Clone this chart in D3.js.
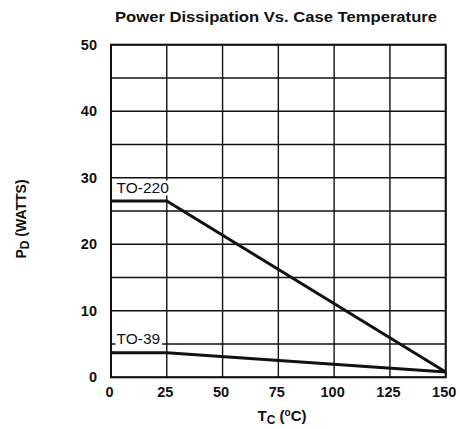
<!DOCTYPE html>
<html><head><meta charset="utf-8">
<script src="https://cdn.jsdelivr.net/npm/d3@7"></script>
<style>body{margin:0;background:#fff}svg{display:block}</style>
</head><body>
<script>
const title = "Power Dissipation Vs. Case Temperature";
const xTicks = [0, 25, 50, 75, 100, 125, 150];
const yTicks = [0, 10, 20, 30, 40, 50];
const yGrid = [0, 5, 10, 15, 20, 25, 30, 35, 40, 45, 50];
const seriesNames = ["TO-220", "TO-39"];
const to220Temp = [0, 25, 150];
const to220Power = [26.5, 26.5, 0.8];
const to39Temp = [0, 25, 150];
const to39Power = [3.7, 3.7, 0.8];

const W = 460, H = 429;
const m = {left: 111, right: 14.3, top: 44.7, bottom: 51.7};
const svg = d3.select("body").append("svg").attr("width", W).attr("height", H);
const x = d3.scaleLinear().domain([0, 150]).range([m.left, W - m.right]);
const y = d3.scaleLinear().domain([0, 50]).range([H - m.bottom, m.top]);
const ink = "#111";
const font = "Liberation Sans, Arial, Helvetica, sans-serif";

// grid
const g = svg.append("g");
g.selectAll("line.h").data(yGrid).join("line")
  .attr("x1", x(0)).attr("x2", x(150)).attr("y1", d => y(d)).attr("y2", d => y(d))
  .attr("stroke", ink).attr("stroke-width", 1.4);
g.selectAll("line.v").data(xTicks).join("line")
  .attr("y1", y(0)).attr("y2", y(50)).attr("x1", d => x(d)).attr("x2", d => x(d))
  .attr("stroke", ink).attr("stroke-width", 1.4);
svg.append("rect").attr("x", x(0)).attr("y", y(50)).attr("width", x(150) - x(0)).attr("height", y(0) - y(50))
  .attr("fill", "none").attr("stroke", ink).attr("stroke-width", 2);

// axes (text only)
const xAxis = svg.append("g").attr("transform", `translate(0,${y(0)})`)
  .call(d3.axisBottom(x).tickValues(xTicks).tickSize(0).tickPadding(9));
const yAxis = svg.append("g").attr("transform", `translate(${x(0)},0)`)
  .call(d3.axisLeft(y).tickValues(yTicks).tickSize(0).tickPadding(14));
[xAxis, yAxis].forEach(a => {
  a.select(".domain").remove();
  a.selectAll("text").attr("font-family", font).attr("font-weight", "bold")
    .attr("font-size", 14.5).attr("fill", ink);
});
xAxis.selectAll("text").attr("dx", -2);

// series lines
const line = d3.line().x(d => x(d[0])).y(d => y(d[1]));
const series = [
  {name: seriesNames[0], pts: d3.zip(to220Temp, to220Power)},
  {name: seriesNames[1], pts: d3.zip(to39Temp, to39Power)}
];
svg.selectAll("path.s").data(series).join("path")
  .attr("d", d => line(d.pts)).attr("fill", "none").attr("stroke", ink)
  .attr("stroke-width", 3).attr("stroke-linejoin", "miter");

// series labels with white background
series.forEach((s, i) => {
  const lx = x(0) + 5.5;
  const ly = y(s.pts[0][1]) - 8.5;
  const t = svg.append("text").attr("x", lx).attr("y", ly)
    .attr("font-family", font).attr("font-size", 15.5).attr("fill", ink)
    .text(s.name);
  const bb = t.node().getBBox();
  svg.insert("rect", () => t.node()).attr("x", bb.x - 1).attr("y", bb.y + 2)
    .attr("width", bb.width + 3).attr("height", bb.height - 2).attr("fill", "#fff");
});

// title
svg.append("text").attr("x", 276).attr("y", 22).attr("text-anchor", "middle")
  .attr("font-family", font).attr("font-weight", "bold").attr("font-size", 15)
  .attr("textLength", 322).attr("lengthAdjust", "spacingAndGlyphs")
  .attr("fill", ink).text(title);

// y label
const yl = svg.append("text").attr("transform", "translate(26,219) rotate(-90)")
  .attr("text-anchor", "middle").attr("font-family", font).attr("font-weight", "bold")
  .attr("font-size", 14).attr("fill", ink);
yl.append("tspan").text("P");
yl.append("tspan").attr("font-size", 12).attr("dy", 3).text("D");
yl.append("tspan").attr("dy", -3).text(" (WATTS)");

// x label
const xl = svg.append("text").attr("x", 282).attr("y", 421)
  .attr("text-anchor", "middle").attr("font-family", font).attr("font-weight", "bold")
  .attr("font-size", 15).attr("fill", ink);
xl.append("tspan").text("T");
xl.append("tspan").attr("font-size", 12).attr("dy", 3).text("C");
xl.append("tspan").attr("dy", -3).text(" (");
xl.append("tspan").attr("font-size", 10).attr("dy", -5).text("o");
xl.append("tspan").attr("dy", 5).text("C)");
</script>
</body></html>
